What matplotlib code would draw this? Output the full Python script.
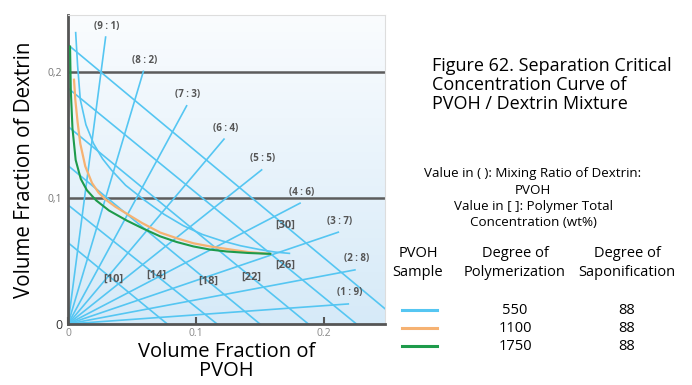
import matplotlib.pyplot as plt
import numpy as np
from matplotlib.colors import LinearSegmentedColormap

plt.rcParams['font.family'] = ['Open Sans', 'DejaVu Sans']

# mixing-ratio lines (from origin): label and far end point
ratio_labels = ['(9 : 1)', '(8 : 2)', '(7 : 3)', '(6 : 4)', '(5 : 5)',
                '(4 : 6)', '(3 : 7)', '(2 : 8)', '(1 : 9)']
ratio_end_x = [0.0294, 0.0589, 0.0927, 0.1219, 0.1513, 0.1813, 0.2112, 0.2242, 0.2190]
ratio_end_y = [0.2275, 0.2003, 0.1730, 0.1466, 0.1222, 0.0958, 0.0728, 0.0429, 0.0159]

# total polymer concentration lines: intercepts on y and x axes
conc_labels = ['[10]', '[14]', '[18]', '[22]', '[26]', '[30]']
conc_y0 = [0.0645, 0.0944, 0.1256, 0.1566, 0.1870, 0.2214]
conc_x0 = [0.0776, 0.1165, 0.1500, 0.1878, 0.2254, 0.2620]
conc_label_x = [0.0354, 0.0693, 0.1096, 0.1435, 0.1695, 0.1695]

# critical concentration curves
curve_550_x = [0.006, 0.0075, 0.0096, 0.014, 0.020, 0.027, 0.034, 0.045, 0.060,
               0.075, 0.090, 0.105, 0.120, 0.135, 0.150, 0.162, 0.173]
curve_550_y = [0.231, 0.205, 0.178, 0.158, 0.143, 0.131, 0.122, 0.110, 0.098,
               0.087, 0.078, 0.071, 0.066, 0.062, 0.059, 0.057, 0.056]
curve_1100_x = [0.0047, 0.0057, 0.0075, 0.0096, 0.0135, 0.0188, 0.024, 0.029, 0.037,
                0.045, 0.058, 0.072, 0.085, 0.098, 0.111, 0.124, 0.141, 0.158]
curve_1100_y = [0.1937, 0.178, 0.160, 0.143, 0.125, 0.1117, 0.104, 0.099, 0.093,
                0.088, 0.080, 0.0725, 0.068, 0.064, 0.0615, 0.0595, 0.057, 0.0556]
curve_1750_x = [0.0016, 0.0022, 0.0035, 0.006, 0.010, 0.0148, 0.022, 0.032, 0.046,
                0.058, 0.072, 0.085, 0.098, 0.111, 0.124, 0.141, 0.158]
curve_1750_y = [0.220, 0.185, 0.155, 0.130, 0.115, 0.106, 0.098, 0.090, 0.082,
                0.076, 0.0695, 0.065, 0.0615, 0.059, 0.0575, 0.0563, 0.0556]

samples_dp = ['550', '1100', '1750']
samples_sap = ['88', '88', '88']

BLUE = '#55c6f2'
ORANGE = '#f6b272'
GREEN = '#1e9b4b'

W, H = 692, 385
fig = plt.figure(figsize=(W / 100, H / 100), dpi=100)
ax = fig.add_axes([68 / W, 61 / H, 317 / W, 309 / H])
xmax, ymax = 0.2477, 0.245
ax.set_xlim(0, xmax)
ax.set_ylim(0, ymax)

# background gradient
grad = np.linspace(0, 1, 256).reshape(-1, 1)
bg = LinearSegmentedColormap.from_list('bg', ['#d6eaf8', '#fafcfe'])
ax.imshow(grad, cmap=bg, extent=[0, xmax, 0, ymax], origin='lower',
          aspect='auto', zorder=0)

# grid lines
for yv in [0.1, 0.2]:
    ax.axhline(yv, color='#5c5c5c', lw=1.8, zorder=1)

# ratio lines
for lab, ex, ey in zip(ratio_labels, ratio_end_x, ratio_end_y):
    ax.plot([0, ex], [0, ey], color=BLUE, lw=1.2, zorder=2)
    ax.annotate(lab, (ex, ey), xytext=(1, 4), textcoords='offset points',
                ha='center', va='bottom', fontsize=7, color='#555555',
                fontweight='bold')

# concentration lines
for lab, y0, x0, lx in zip(conc_labels, conc_y0, conc_x0, conc_label_x):
    ax.plot([0, x0], [y0, 0], color=BLUE, lw=1.2, zorder=2)
    ly = y0 * (1 - lx / x0)
    ax.text(lx, ly, lab, ha='center', va='center', fontsize=8,
            color='#555555', fontweight='bold', zorder=5)

ax.plot(curve_550_x, curve_550_y, color=BLUE, lw=1.2, zorder=3)
ax.plot(curve_1100_x, curve_1100_y, color=ORANGE, lw=1.6, zorder=3)
ax.plot(curve_1750_x, curve_1750_y, color=GREEN, lw=1.5, zorder=4)

# spines / ticks
for s in ['top', 'right']:
    ax.spines[s].set_color('#dddddd')
    ax.spines[s].set_linewidth(0.8)
for s in ['left', 'bottom']:
    ax.spines[s].set_color('#555555')
    ax.spines[s].set_linewidth(2)
ax.set_xticks([0, 0.1, 0.2])
ax.set_xticklabels(['0', '0.1', '0.2'])
ax.set_yticks([0, 0.1, 0.2])
ax.set_yticklabels(['0', '0,1', '0,2'])
ax.tick_params(axis='x', direction='in', length=5, width=1.5, color='#555555',
               labelsize=7.5, labelcolor='#888888', pad=3)
ax.tick_params(axis='y', length=0, labelsize=7.5, labelcolor='#777777', pad=4)
ax.get_yticklabels()[0].set_fontsize(9)
ax.get_yticklabels()[0].set_color('#333333')

ax.set_ylabel('Volume Fraction of Dextrin', fontsize=14.8, labelpad=9)
ax.set_xlabel('Volume Fraction of\nPVOH', fontsize=14.5, labelpad=2,
              linespacing=0.92)

# right side texts
fig.text(432 / W, 1 - 57 / H,
         'Figure 62. Separation Critical\nConcentration Curve of\nPVOH / Dextrin Mixture',
         ha='left', va='top', fontsize=13, linespacing=1.08)
fig.text(533 / W, 1 - 167 / H,
         'Value in ( ): Mixing Ratio of Dextrin:\nPVOH\nValue in [ ]: Polymer Total\nConcentration (wt%)',
         ha='center', va='top', fontsize=9.6, linespacing=1.35)

hy = 1 - 263 / H
fig.text(418 / W, hy, 'PVOH\nSample', ha='center', va='center', fontsize=10.5,
         linespacing=1.3)
fig.text(515 / W, hy, 'Degree of\nPolymerization', ha='center', va='center',
         fontsize=10.5, linespacing=1.3)
fig.text(627 / W, hy, 'Degree of\nSaponification', ha='center', va='center',
         fontsize=10.5, linespacing=1.3)

for i, (col, dp, sap) in enumerate(zip([BLUE, ORANGE, GREEN], samples_dp, samples_sap)):
    yy = 1 - (310 + 18 * i) / H
    fig.add_artist(plt.Line2D([402 / W, 437 / W], [yy, yy], color=col, lw=2.2))
    fig.text(515 / W, yy, dp, ha='center', va='center', fontsize=10.5)
    fig.text(627 / W, yy, sap, ha='center', va='center', fontsize=10.5)

fig.savefig('out.png', dpi=100)
